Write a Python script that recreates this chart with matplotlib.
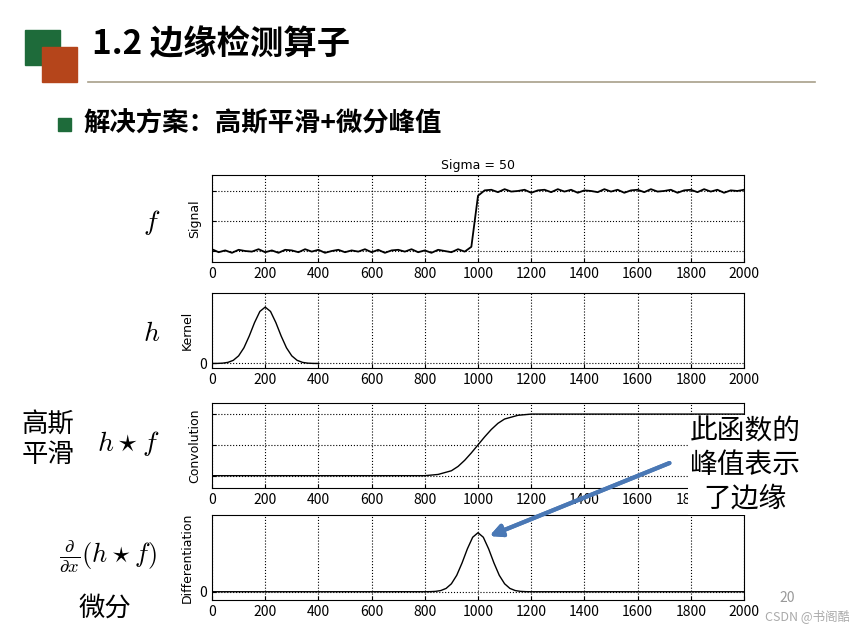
import matplotlib
matplotlib.use("Agg")
import matplotlib.pyplot as plt
from matplotlib.patches import Rectangle

plt.rcParams['font.family'] = ['Noto Sans CJK SC', 'DejaVu Sans']
plt.rcParams['mathtext.fontset'] = 'cm'

x_sig = list(range(0, 2001, 25))
sig_noise = [0.03,-0.02,0.01,-0.03,0.02,0.0,-0.01,0.03,-0.02,0.01,-0.03,0.02,0.01,-0.02,0.03,-0.01,
             0.02,-0.03,0.0,0.02,-0.02,0.01,-0.01,0.03,-0.02,0.02,-0.03,0.01,0.02,-0.01,0.03,-0.02,
             0.01,-0.03,0.02,0.0,-0.02,0.03,-0.01,0.02,-0.03,0.01,0.02,-0.02,0.03,-0.01,0.0,0.02,
             -0.03,0.01,0.02,-0.02,0.03,-0.01,0.02,-0.03,0.01,0.0,-0.02,0.03,-0.01,0.02,-0.03,0.01,
             0.02,-0.02,0.03,-0.01,0.0,0.02,-0.03,0.01,0.02,-0.02,0.03,-0.01,0.02,-0.03,0.01,0.0,0.02]
sig_base = [0]*39 + [0.05, 0.95] + [1]*40
signal = [b + n for b, n in zip(sig_base, sig_noise)]

x_ker = list(range(0, 401, 20))
kernel = [0.0003,0.0015,0.006,0.020,0.056,0.135,0.278,0.487,0.726,0.923,1.0,
          0.923,0.726,0.487,0.278,0.135,0.056,0.020,0.006,0.0015,0.0003]

x_conv = [0,200,800,850,900,925,950,975,1000,1025,1050,1075,1100,1150,1200,2000]
conv = [0,0,0,0.02,0.08,0.15,0.25,0.37,0.5,0.63,0.75,0.85,0.92,0.98,1,1]

x_diff = [0,200,800,820,840,860,880,900,920,940,960,980,1000,1020,1040,1060,1080,1100,1120,1140,1160,1180,1200,2000]
diff = [0,0,0.0003,0.0015,0.006,0.020,0.056,0.135,0.278,0.487,0.726,0.923,1.0,
        0.923,0.726,0.487,0.278,0.135,0.056,0.020,0.006,0.0015,0,0]

W, H = 849, 635
fig = plt.figure(figsize=(W/100, H/100), dpi=100)
def ax_px(l, t, r, b):
    return fig.add_axes([l/W, 1-b/H, (r-l)/W, (b-t)/H])

fig.patches.append(Rectangle((25/W, 1-65/H), 35/W, 35/H, color='#1e6b3a', transform=fig.transFigure))
fig.patches.append(Rectangle((42/W, 1-82/H), 35/W, 35/H, color='#b5451b', transform=fig.transFigure))
fig.add_artist(plt.Line2D([88/W, 815/W], [1-82/H]*2, color='#a89f8a', lw=1.2))
fig.text(92/W, 1-45/H, '1.2 边缘检测算子', fontsize=24, fontweight='bold', va='center')
fig.patches.append(Rectangle((58/W, 1-131/H), 13/W, 13/H, color='#1e6b3a', transform=fig.transFigure))
fig.text(84/W, 1-124/H, '解决方案：高斯平滑+微分峰值', fontsize=19, fontweight='bold', va='center')

def style(ax):
    ax.set_xlim(0, 2000)
    ax.set_xticks(range(0, 2001, 200))
    ax.tick_params(labelsize=10, direction='in', length=3)
    ax.grid(True, linestyle=':', color='k', lw=0.8)

ax1 = ax_px(212, 175, 744, 262)
ax1.plot(x_sig, signal, color='k', lw=1.3)
ax1.set_ylim(-0.183, 1.266)
ax1.set_yticks([0, 0.5, 1]); ax1.set_yticklabels([])
style(ax1)
ax1.set_ylabel('Signal', fontsize=9, family='DejaVu Sans')
ax1.set_title('Sigma = 50', fontsize=9, family='DejaVu Sans', pad=4)

ax2 = ax_px(212, 293, 744, 368)
ax2.plot(x_ker, kernel, color='k', lw=1)
ax2.set_ylim(-0.08, 1.25)
ax2.set_yticks([0]); style(ax2)
ax2.set_ylabel('Kernel', fontsize=9, family='DejaVu Sans')

ax3 = ax_px(212, 403, 744, 488)
ax3.plot(x_conv, conv, color='k', lw=1)
ax3.set_ylim(-0.2, 1.18)
ax3.set_yticks([0, 0.5, 1]); ax3.set_yticklabels([]); style(ax3)
ax3.set_ylabel('Convolution', fontsize=9, family='DejaVu Sans')

ax4 = ax_px(212, 515, 744, 600)
ax4.plot(x_diff, diff, color='k', lw=1)
ax4.set_ylim(-0.14, 1.3)
ax4.set_yticks([0]); style(ax4)
ax4.set_ylabel('Differentiation', fontsize=9, family='DejaVu Sans')

fig.text(152/W, 1-222/H, r'$f$', fontsize=20, ha='center', va='center')
fig.text(152/W, 1-333/H, r'$h$', fontsize=20, ha='center', va='center')
fig.text(48/W, 1-440/H, '高斯\n平滑', fontsize=19, ha='center', va='center', linespacing=1.1)
fig.text(128/W, 1-443/H, r'$h\star f$', fontsize=20, ha='center', va='center')
fig.text(108/W, 1-557/H, r'$\frac{\partial}{\partial x}(h\star f)$', fontsize=19, ha='center', va='center')
fig.text(105/W, 1-608/H, '微分', fontsize=19, ha='center', va='center')

fig.text(745/W, 1-465/H, '此函数的\n峰值表示\n了边缘', fontsize=20, ha='center', va='center', linespacing=1.15,
         bbox=dict(facecolor='white', edgecolor='none', pad=1), zorder=10)
fig.add_artist(plt.annotate('', xy=(487/W, 1-537/H), xytext=(672/W, 1-462/H),
               xycoords='figure fraction', textcoords='figure fraction',
               arrowprops=dict(arrowstyle='-|>', color='#4a78b5', lw=3, mutation_scale=18)))
fig.text(787/W, 1-602/H, '20', fontsize=10, color='#999999', ha='center')
fig.text(808/W, 1-620/H, 'CSDN @书阁酷', fontsize=9, color='#aaaaaa', ha='center')

fig.savefig('out.png', dpi=100)
